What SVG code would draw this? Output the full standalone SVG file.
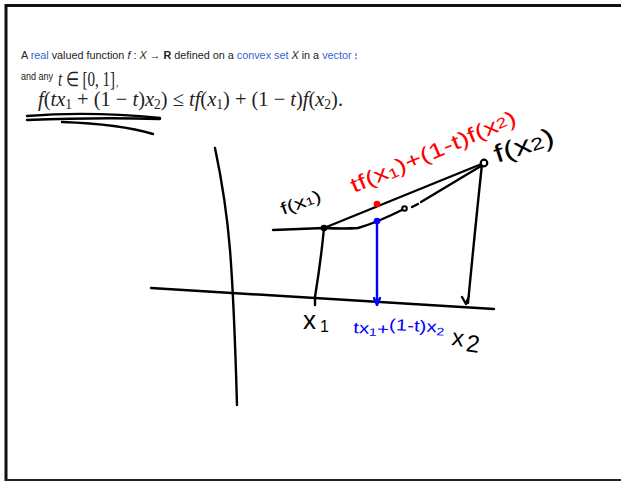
<svg xmlns="http://www.w3.org/2000/svg" width="621" height="481" viewBox="0 0 621 481">
<style>
.ink{fill:none;stroke:#000;stroke-width:2.4;stroke-linecap:round;stroke-linejoin:round}
.blue{stroke:#0000ff}
.hand{font-family:"Liberation Sans",Arial,sans-serif}
.ui{font-family:"Liberation Sans",Arial,sans-serif;font-size:11px;fill:#222}
.link{fill:#3366cc}
.math{font-family:"Liberation Serif","Times New Roman",serif;fill:#222}
</style>
<defs>
<clipPath id="cl"><rect x="0" y="40" width="357" height="30"/></clipPath>
</defs>
<rect width="621" height="481" fill="#fff"/>
<g id="frame">
<line x1="5" y1="5.5" x2="621" y2="5.5" stroke="#111" stroke-width="3"/>
<line x1="6" y1="4" x2="6" y2="481" stroke="#111" stroke-width="3"/>
<line x1="5" y1="480" x2="621" y2="480" stroke="#222" stroke-width="2"/>
</g>
<g id="definition">
<text class="ui" x="21" y="59" clip-path="url(#cl)" textLength="339" lengthAdjust="spacingAndGlyphs">A <tspan class="link">real</tspan> valued function <tspan font-style="italic">f</tspan> : <tspan font-style="italic">X</tspan> → <tspan font-weight="bold">R</tspan> defined on a <tspan class="link">convex set</tspan> <tspan font-style="italic">X</tspan> in a <tspan class="link">vector s</tspan></text>
<text class="ui" x="21" y="80" font-size="10.5" textLength="32" lengthAdjust="spacingAndGlyphs">and any</text>
<text class="math" x="58" y="86" font-size="20" textLength="57" lengthAdjust="spacingAndGlyphs"><tspan font-style="italic">t</tspan> ∈ [0, 1]</text>
<text class="math" x="116" y="86" font-size="10">,</text>
<text class="math" x="38" y="106" font-size="21" textLength="305" lengthAdjust="spacingAndGlyphs"><tspan font-style="italic">f</tspan>(<tspan font-style="italic">tx</tspan><tspan font-size="14" dy="3">1</tspan><tspan dy="-3"> + (1 − </tspan><tspan font-style="italic">t</tspan>)<tspan font-style="italic">x</tspan><tspan font-size="14" dy="3">2</tspan><tspan dy="-3">) ≤ </tspan><tspan font-style="italic">tf</tspan>(<tspan font-style="italic">x</tspan><tspan font-size="14" dy="3">1</tspan><tspan dy="-3">) + (1 − </tspan><tspan font-style="italic">t</tspan>)<tspan font-style="italic">f</tspan>(<tspan font-style="italic">x</tspan><tspan font-size="14" dy="3">2</tspan><tspan dy="-3">).</tspan></text>
<path class="ink" d="M27,116 Q90,111 160,118"/>
<path class="ink" d="M27,120 Q100,117 160,119"/>
<path class="ink" d="M62,122 Q120,124 153,134"/>
</g>
<g id="axes">
<path class="ink" d="M215,148 Q226,200 230,250 Q234,300 237,405"/>
<path class="ink" d="M151,288 L494,309"/>
</g>
<g id="connectors">
<path class="ink" d="M273,230 L324,228 Q345,229 358,228 Q368,225 378,221 Q392,215 404,209"/>
<circle cx="404.5" cy="208.5" r="2.3" fill="#fff" stroke="#000" stroke-width="2"/>
<path class="ink" d="M412,207 L418,204 M421,202 L481,166"/>
<path class="ink" d="M324,228 L484,163"/>
<path class="ink" d="M324,228 Q321,260 315,297 L315,305"/>
<path class="ink" d="M482,164 Q476,220 468,303 M462,297 L466,304 L469,296"/>
<path class="ink blue" d="M377,221 L377,303"/>
<path class="ink blue" d="M374,298 L377,305 L380,298"/>
</g>
<g id="points">
<circle cx="324" cy="228" r="3.3" fill="#000"/>
<circle cx="484" cy="163" r="3.3" fill="#fff" stroke="#000" stroke-width="2.2"/>
<circle cx="377" cy="204" r="3.3" fill="#ff0000"/>
<circle cx="377" cy="221" r="3.3" fill="#0000ff"/>
</g>
<g id="labels">
<text class="hand" x="283" y="215" font-size="17" transform="rotate(-20 283 215)" textLength="42" lengthAdjust="spacingAndGlyphs">f(x<tspan font-size="11">1</tspan>)</text>
<text class="hand" x="497" y="163" font-size="25" transform="rotate(-18 497 163)" textLength="62" lengthAdjust="spacingAndGlyphs">f(x<tspan font-size="17">2</tspan>)</text>
<text class="hand" x="354" y="193" font-size="21" fill="#ff0000" transform="rotate(-23 354 193)" textLength="178" lengthAdjust="spacingAndGlyphs">tf(x<tspan font-size="14" dy="2">1</tspan><tspan dy="-2">)+(1-t)f(x</tspan><tspan font-size="14" dy="-2">2</tspan><tspan dy="2">)</tspan></text>
<text class="hand" x="303" y="329" font-size="26">x<tspan font-size="16" dx="4" dy="3">1</tspan></text>
<text class="hand" x="353" y="333" font-size="16" fill="#0000ff" transform="rotate(3 353 333)" textLength="91" lengthAdjust="spacingAndGlyphs">tx<tspan font-size="11" dy="2">1</tspan><tspan dy="-2">+</tspan><tspan dy="-5">(1-t)x</tspan><tspan font-size="11" dy="3">2</tspan></text>
<text class="hand" x="451" y="345" font-size="24" transform="rotate(8 451 345)">x<tspan dx="3" dy="4">2</tspan></text>
</g>
</svg>
